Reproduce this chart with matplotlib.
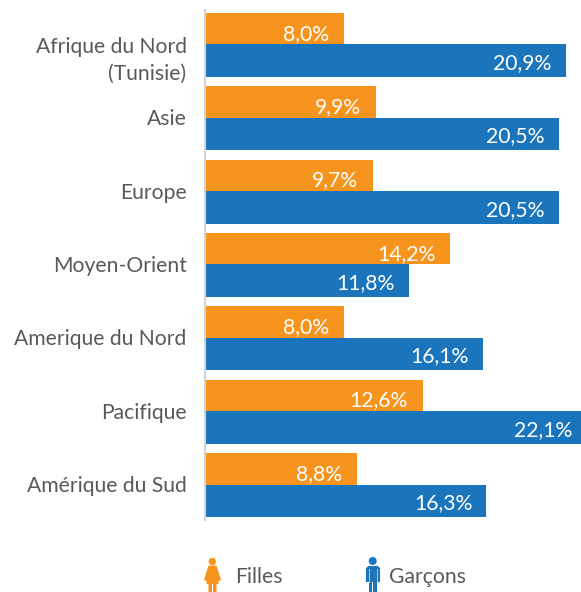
import matplotlib
matplotlib.use("Agg")
import matplotlib.pyplot as plt
import numpy as np
from matplotlib.patches import Circle, Polygon, Rectangle

plt.rcParams["font.family"] = ["Lato", "DejaVu Sans"]

regions = ["Afrique du Nord\n(Tunisie)", "Asie", "Europe", "Moyen-Orient",
           "Amerique du Nord", "Pacifique", "Amérique du Sud"]
filles = [8.0, 9.9, 9.7, 14.2, 8.0, 12.6, 8.8]
garcons = [20.9, 20.5, 20.5, 11.8, 16.1, 22.1, 16.3]

ORANGE = "#f7941e"
BLUE = "#1b75bc"
TEXT = "#58595b"
W, H = 581, 592
FS = 15.2


def label(v):
    return f"{v:.1f}%".replace(".", ",")


fig = plt.figure(figsize=(W / 100, H / 100), dpi=100)
ax = fig.add_axes([206 / W, 1 - 520 / H, 375 / W, 510 / H])
y = np.arange(len(regions))
ax.barh(y - 0.215, filles, height=0.43, color=ORANGE)
ax.barh(y + 0.222, garcons, height=0.444, color=BLUE)
ax.set_xlim(0, 21.8)
ax.set_ylim(6.484, -0.47)

for i, (f, g) in enumerate(zip(filles, garcons)):
    ax.text(f - 0.87, i - 0.145, label(f), color="white", fontsize=FS, ha="right", va="center")
    ax.text(g - 0.82, i + 0.255, label(g), color="white", fontsize=FS, ha="right", va="center")

# region labels, the two-line one sits lower than its group centre
for i, name in enumerate(regions):
    dy = 0.22 if "\n" in name else 0.02
    ax.text(-1.13, i + dy, name, fontsize=FS, color=TEXT, ha="right", va="center",
            linespacing=1.45, multialignment="right")

ax.set_yticks([])
ax.set_xticks([])
for s in ["top", "right", "bottom"]:
    ax.spines[s].set_visible(False)
ax.spines["left"].set_color("#d1d3d4")
ax.spines["left"].set_linewidth(1.5)
ax.spines["left"].set_position(("outward", 0.75))

# legend icons drawn in pixel coordinates
overlay = fig.add_axes([0, 0, 1, 1])
overlay.set_xlim(0, W)
overlay.set_ylim(H, 0)
overlay.axis("off")

overlay.add_patch(Circle((212.3, 561.5), 3.7, color=ORANGE, lw=0))
overlay.add_patch(Polygon([(208.5, 565.5), (216.5, 565.5), (221, 580), (218.5, 581),
                           (218.5, 584), (216.5, 584), (216.5, 592), (213, 592), (213, 584),
                           (212, 584), (212, 592), (208.5, 592), (208.5, 584), (206.5, 584),
                           (206.5, 581), (204, 580)], color=ORANGE, lw=0))

overlay.add_patch(Circle((372.7, 561), 4, color=BLUE, lw=0))
overlay.add_patch(Rectangle((369, 565.5), 8, 16, color=BLUE, lw=0))
overlay.add_patch(Rectangle((369, 581), 3.3, 11, color=BLUE, lw=0))
overlay.add_patch(Rectangle((373.3, 581), 3.7, 11, color=BLUE, lw=0))
overlay.add_patch(Polygon([(366, 568), (369, 565.5), (369, 582), (366, 582)], color=BLUE, lw=0))
overlay.add_patch(Polygon([(377, 565.5), (380, 568), (380, 582), (377, 582)], color=BLUE, lw=0))
overlay.plot([369, 369], [569, 582], color="#a9cbe6", lw=0.7)
overlay.plot([377, 377], [569, 582], color="#a9cbe6", lw=0.7)

overlay.text(235, 577, "Filles", fontsize=FS, color=TEXT, va="center")
overlay.text(389, 577, "Garçons", fontsize=FS, color=TEXT, va="center")

fig.savefig("out.png", dpi=100)
